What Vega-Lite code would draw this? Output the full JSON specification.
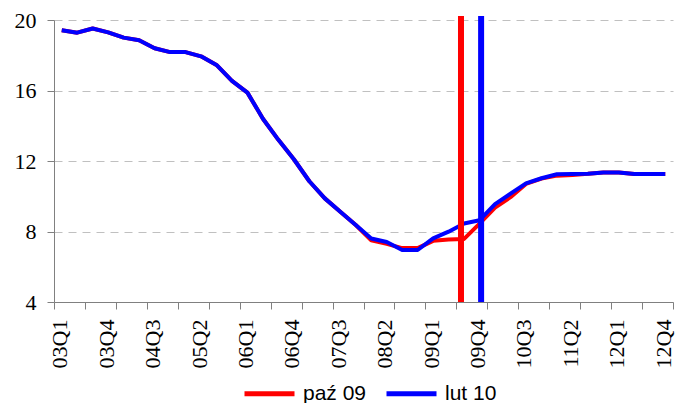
{
  "$schema": "https://vega.github.io/schema/vega-lite/v6.json",
  "width": 619,
  "height": 282,
  "autosize": {"type": "none"},
  "padding": {"left": 54, "top": 20, "right": 2, "bottom": 101},
  "background": "white",
  "config": {
    "view": {"stroke": null},
    "axis": {"labelFlush": false, "labelOverlap": false, "title": null, "labelColor": "black", "tickColor": "#808080", "domainColor": "#808080"},
    "legend": {"padding": 0}
  },
  "datasets": {
    "lines": [
      {"s": "paź 09", "i": 0, "v": 19.42}, {"s": "paź 09", "i": 1, "v": 19.28}, {"s": "paź 09", "i": 2, "v": 19.52}, {"s": "paź 09", "i": 3, "v": 19.3},
      {"s": "paź 09", "i": 4, "v": 19.0}, {"s": "paź 09", "i": 5, "v": 18.85}, {"s": "paź 09", "i": 6, "v": 18.4}, {"s": "paź 09", "i": 7, "v": 18.18},
      {"s": "paź 09", "i": 8, "v": 18.18}, {"s": "paź 09", "i": 9, "v": 17.94}, {"s": "paź 09", "i": 10, "v": 17.45}, {"s": "paź 09", "i": 11, "v": 16.55},
      {"s": "paź 09", "i": 12, "v": 15.88}, {"s": "paź 09", "i": 13, "v": 14.4}, {"s": "paź 09", "i": 14, "v": 13.2}, {"s": "paź 09", "i": 15, "v": 12.1},
      {"s": "paź 09", "i": 16, "v": 10.85}, {"s": "paź 09", "i": 17, "v": 9.88}, {"s": "paź 09", "i": 18, "v": 9.12}, {"s": "paź 09", "i": 19, "v": 8.37},
      {"s": "paź 09", "i": 20, "v": 7.5}, {"s": "paź 09", "i": 21, "v": 7.3}, {"s": "paź 09", "i": 22, "v": 7.06}, {"s": "paź 09", "i": 23, "v": 7.06},
      {"s": "paź 09", "i": 24, "v": 7.47}, {"s": "paź 09", "i": 25, "v": 7.55}, {"s": "paź 09", "i": 26, "v": 7.58}, {"s": "paź 09", "i": 27, "v": 8.45},
      {"s": "paź 09", "i": 28, "v": 9.35}, {"s": "paź 09", "i": 29, "v": 9.95}, {"s": "paź 09", "i": 30, "v": 10.7}, {"s": "paź 09", "i": 31, "v": 11.0},
      {"s": "paź 09", "i": 32, "v": 11.17}, {"s": "paź 09", "i": 33, "v": 11.21}, {"s": "paź 09", "i": 34, "v": 11.27}, {"s": "paź 09", "i": 35, "v": 11.35},
      {"s": "paź 09", "i": 36, "v": 11.35}, {"s": "paź 09", "i": 37, "v": 11.26}, {"s": "paź 09", "i": 38, "v": 11.26}, {"s": "paź 09", "i": 39, "v": 11.26},
      {"s": "lut 10", "i": 0, "v": 19.42}, {"s": "lut 10", "i": 1, "v": 19.28}, {"s": "lut 10", "i": 2, "v": 19.52}, {"s": "lut 10", "i": 3, "v": 19.3},
      {"s": "lut 10", "i": 4, "v": 19.0}, {"s": "lut 10", "i": 5, "v": 18.85}, {"s": "lut 10", "i": 6, "v": 18.4}, {"s": "lut 10", "i": 7, "v": 18.18},
      {"s": "lut 10", "i": 8, "v": 18.18}, {"s": "lut 10", "i": 9, "v": 17.94}, {"s": "lut 10", "i": 10, "v": 17.45}, {"s": "lut 10", "i": 11, "v": 16.55},
      {"s": "lut 10", "i": 12, "v": 15.88}, {"s": "lut 10", "i": 13, "v": 14.4}, {"s": "lut 10", "i": 14, "v": 13.2}, {"s": "lut 10", "i": 15, "v": 12.1},
      {"s": "lut 10", "i": 16, "v": 10.85}, {"s": "lut 10", "i": 17, "v": 9.88}, {"s": "lut 10", "i": 18, "v": 9.12}, {"s": "lut 10", "i": 19, "v": 8.37},
      {"s": "lut 10", "i": 20, "v": 7.6}, {"s": "lut 10", "i": 21, "v": 7.4}, {"s": "lut 10", "i": 22, "v": 6.95}, {"s": "lut 10", "i": 23, "v": 6.95},
      {"s": "lut 10", "i": 24, "v": 7.61}, {"s": "lut 10", "i": 25, "v": 7.99}, {"s": "lut 10", "i": 26, "v": 8.45}, {"s": "lut 10", "i": 27, "v": 8.64},
      {"s": "lut 10", "i": 28, "v": 9.55}, {"s": "lut 10", "i": 29, "v": 10.15}, {"s": "lut 10", "i": 30, "v": 10.73}, {"s": "lut 10", "i": 31, "v": 11.02},
      {"s": "lut 10", "i": 32, "v": 11.25}, {"s": "lut 10", "i": 33, "v": 11.26}, {"s": "lut 10", "i": 34, "v": 11.27}, {"s": "lut 10", "i": 35, "v": 11.35},
      {"s": "lut 10", "i": 36, "v": 11.35}, {"s": "lut 10", "i": 37, "v": 11.26}, {"s": "lut 10", "i": 38, "v": 11.26}, {"s": "lut 10", "i": 39, "v": 11.26}
    ],
    "markers": [
      {"s": "paź 09", "i": 25.8},
      {"s": "lut 10", "i": 27.1}
    ]
  },
  "layer": [
    {
      "data": {"name": "lines"},
      "mark": {"type": "line", "strokeWidth": 4, "strokeJoin": "round"},
      "encoding": {
        "x": {
          "field": "i", "type": "quantitative",
          "scale": {"domain": [-0.5, 39.5], "nice": false, "zero": false},
          "axis": {
            "orient": "bottom",
            "values": [-0.5, 1.5, 3.5, 5.5, 7.5, 9.5, 11.5, 13.5, 15.5, 17.5, 19.5, 21.5, 23.5, 25.5, 27.5, 29.5, 31.5, 33.5, 35.5, 37.5, 39.5],
            "labels": false, "grid": false, "tickSize": 7, "domain": true
          }
        },
        "y": {
          "field": "v", "type": "quantitative",
          "scale": {"domain": [4, 20], "nice": false, "zero": false},
          "axis": {
            "values": [4, 8, 12, 16, 20], "tickSize": 7,
            "labelFont": "Liberation Serif", "labelFontSize": 22, "labelPadding": 11,
            "grid": true, "gridColor": "#c0c0c0", "gridDash": [8, 6], "gridWidth": 1
          }
        },
        "color": {
          "field": "s", "type": "nominal",
          "scale": {"domain": ["paź 09", "lut 10"], "range": ["#ff0000", "#0000ff"]},
          "sort": ["paź 09", "lut 10"],
          "legend": {
            "title": null, "orient": "none", "legendX": 188, "legendY": 346, "direction": "horizontal",
            "symbolType": "stroke", "symbolSize": 2500, "symbolStrokeWidth": 5,
            "labelFont": "Liberation Sans", "labelFontSize": 21, "labelOffset": 6, "columnPadding": 9, "labelColor": "black"
          }
        }
      }
    },
    {
      "data": {"name": "markers"},
      "mark": {"type": "rule", "strokeWidth": 6},
      "encoding": {
        "x": {
          "field": "i", "type": "quantitative",
          "axis": {
            "orient": "bottom",
            "values": [0, 3, 6, 9, 12, 15, 18, 21, 24, 27, 30, 33, 36, 39],
            "labelExpr": "(floor(datum.value/4)+3 < 10 ? '0' : '') + (floor(datum.value/4)+3) + 'Q' + (datum.value%4+1)",
            "ticks": false, "tickSize": 0, "domain": false, "grid": false,
            "labelAngle": 270, "labelFont": "Liberation Serif", "labelFontSize": 22, "labelPadding": 17, "labelOffset": -2
          }
        },
        "y": {"datum": 4},
        "y2": {"datum": 20.23},
        "color": {"field": "s", "type": "nominal", "legend": null}
      }
    }
  ],
  "resolve": {"axis": {"x": "independent"}}
}
